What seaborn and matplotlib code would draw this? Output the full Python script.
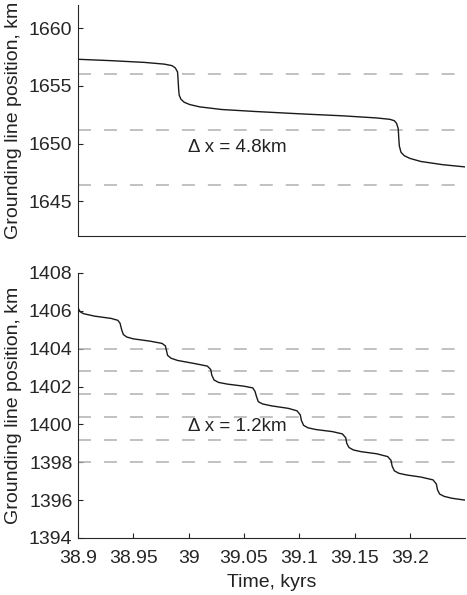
import matplotlib
matplotlib.use("Agg")
import matplotlib.pyplot as plt
import seaborn as sns

# ---------------------------------------
# Data
# ---------------------------------------
top_time = [38.900, 38.930, 38.960, 38.978, 38.985, 38.988, 38.990, 38.9905, 38.991, 38.9915,
            38.993, 38.996, 39.001, 39.010, 39.030, 39.060, 39.100, 39.140, 39.170, 39.182,
            39.186, 39.188, 39.1895, 39.190, 39.1905, 39.192, 39.195, 39.200, 39.210, 39.230,
            39.250]
top_pos = [1657.30, 1657.18, 1657.03, 1656.88, 1656.75, 1656.55, 1656.20, 1655.50, 1654.70, 1654.20,
           1653.85, 1653.58, 1653.38, 1653.18, 1652.95, 1652.78, 1652.58, 1652.40, 1652.22, 1652.10,
           1651.98, 1651.75, 1651.30, 1650.50, 1649.80, 1649.25, 1648.95, 1648.72, 1648.45, 1648.17,
           1647.98]
top_levels = [1656.0, 1651.2, 1646.4]

bot_time = [38.900, 38.902, 38.905, 38.915, 38.930, 38.936, 38.938, 38.9395, 38.941, 38.944,
            38.950, 38.965, 38.976, 38.979, 38.980, 38.981, 38.984, 38.990, 39.005, 39.017,
            39.020, 39.021, 39.023, 39.027, 39.035, 39.050, 39.058, 39.060, 39.0615, 39.063,
            39.067, 39.075, 39.090, 39.098, 39.101, 39.102, 39.104, 39.108, 39.115, 39.130,
            39.139, 39.142, 39.143, 39.145, 39.149, 39.156, 39.170, 39.180, 39.183, 39.184,
            39.186, 39.190, 39.197, 39.210, 39.221, 39.224, 39.225, 39.227, 39.231, 39.238,
            39.250]
bot_pos = [1406.15, 1405.95, 1405.85, 1405.72, 1405.60, 1405.50, 1405.35, 1405.00, 1404.75, 1404.62,
           1404.52, 1404.40, 1404.28, 1404.15, 1403.90, 1403.65, 1403.50, 1403.38, 1403.22, 1403.08,
           1402.90, 1402.60, 1402.35, 1402.22, 1402.13, 1402.02, 1401.93, 1401.75, 1401.45, 1401.20,
           1401.08, 1400.98, 1400.85, 1400.72, 1400.50, 1400.20, 1399.95, 1399.82, 1399.73, 1399.62,
           1399.50, 1399.30, 1399.00, 1398.78, 1398.65, 1398.56, 1398.45, 1398.30, 1398.10, 1397.80,
           1397.55, 1397.42, 1397.33, 1397.22, 1397.07, 1396.85, 1396.55, 1396.32, 1396.20, 1396.10,
           1396.00]
bot_levels = [1404.0, 1402.8, 1401.6, 1400.4, 1399.2, 1398.0]

x_ticks = [38.9, 38.95, 39.0, 39.05, 39.1, 39.15, 39.2]
x_labels = ["38.9", "38.95", "39", "39.05", "39.1", "39.15", "39.2"]
top_yticks = [1645, 1650, 1655, 1660]
bot_yticks = [1394, 1396, 1398, 1400, 1402, 1404, 1406, 1408]

# ---------------------------------------
# Style
# ---------------------------------------
sns.set_style("ticks")
plt.rcParams["font.family"] = ["Liberation Sans", "DejaVu Sans"]
plt.rcParams["font.size"] = 14
plt.rcParams["xtick.direction"] = "in"
plt.rcParams["ytick.direction"] = "in"
plt.rcParams["axes.edgecolor"] = "#262626"
plt.rcParams["text.color"] = "#222222"
plt.rcParams["axes.labelcolor"] = "#222222"
plt.rcParams["xtick.color"] = "#262626"
plt.rcParams["ytick.color"] = "#262626"

fig = plt.figure(figsize=(4.67, 5.95), dpi=100)
ax1 = fig.add_axes([0.167, 0.6034, 0.829, 0.3882])
ax2 = fig.add_axes([0.167, 0.0958, 0.829, 0.4454])

dash = dict(color="#b0b0b0", lw=1.1, ls=(0, (8.5, 8.5)), zorder=1)
line = dict(color="#1a1a1a", lw=1.0, zorder=3)

# top panel
for lv in top_levels:
    ax1.axhline(lv, **dash)
sns.lineplot(x=top_time, y=top_pos, ax=ax1, **line)
ax1.set_xlim(38.9, 39.25)
ax1.set_ylim(1642, 1662)
ax1.set_yticks(top_yticks)
ax1.set_xticks([])
ax1.set_ylabel("Grounding line position, km", fontsize=14, labelpad=5)
ax1.text(38.9995, 1649.7, "Δ x = 4.8km", fontsize=13.5, va="center")

# bottom panel
for lv in bot_levels:
    ax2.axhline(lv, **dash)
sns.lineplot(x=bot_time, y=bot_pos, ax=ax2, **line)
ax2.set_xlim(38.9, 39.25)
ax2.set_ylim(1394, 1408)
ax2.set_yticks(bot_yticks)
ax2.set_xticks(x_ticks)
ax2.set_xticklabels(x_labels)
ax2.set_xlabel("Time, kyrs", fontsize=14, labelpad=5)
ax2.set_ylabel("Grounding line position, km", fontsize=14, labelpad=5)
ax2.text(38.9995, 1399.9, "Δ x = 1.2km", fontsize=13.5, va="center")

for ax in (ax1, ax2):
    sns.despine(ax=ax)
    ax.tick_params(length=3.5, width=0.8, labelsize=14, pad=4)
ax2.tick_params(axis="x", pad=9)

fig.savefig("out.png", dpi=100)
